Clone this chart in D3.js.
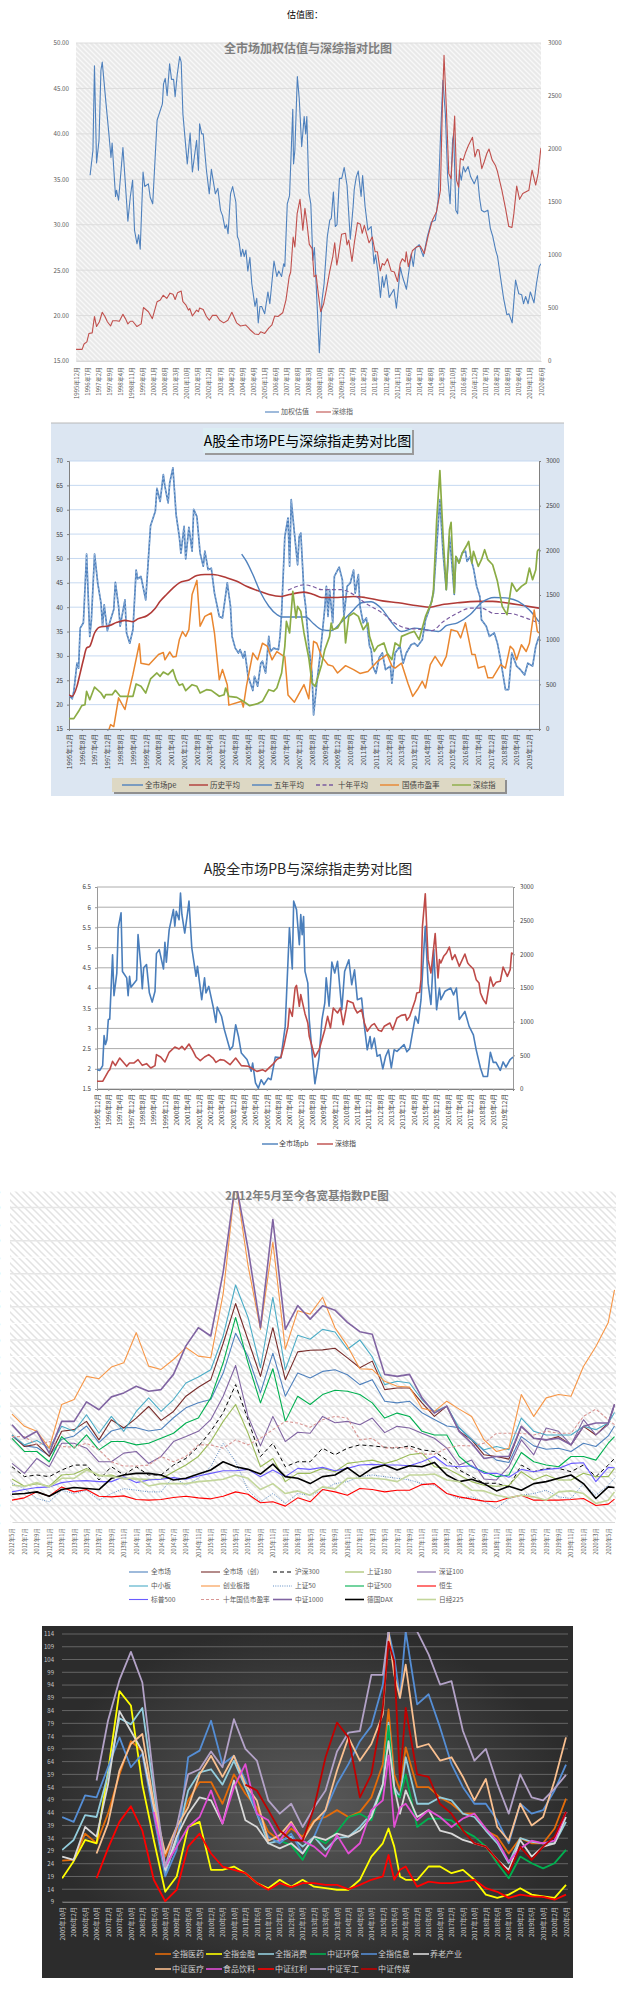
<!DOCTYPE html>
<html><head><meta charset="utf-8">
<script src="https://cdnjs.cloudflare.com/ajax/libs/d3/7.8.5/d3.min.js"></script>
<style>html,body{margin:0;background:#fff}svg{display:block}text{font-family:"Noto Sans CJK SC","Noto Sans",sans-serif}</style>
</head><body><svg id="c" width="629" height="2000"></svg>
<script>
// ---------- chart 1: [year, value]
const c1Labels="1995年12月 1996年7月 1997年2月 1997年9月 1998年4月 1998年11月 1999年6月 2000年1月 2000年8月 2001年3月 2001年10月 2002年5月 2002年12月 2003年7月 2004年2月 2004年9月 2005年4月 2005年11月 2006年6月 2007年1月 2007年8月 2008年3月 2008年10月 2009年5月 2009年12月 2010年7月 2011年2月 2011年9月 2012年4月 2012年11月 2013年6月 2014年1月 2014年8月 2015年3月 2015年10月 2016年5月 2016年12月 2017年7月 2018年2月 2018年9月 2019年4月 2019年11月 2020年6月".split(" ");
const c1Pe=[[1996.66,35.45],[1996.81,38.2],[1996.89,47.5],[1997,36.8],[1997.13,39.3],[1997.23,47],[1997.3,47.9],[1997.5,43.3],[1997.65,40],[1997.76,37.4],[1997.82,39],[1998,33.1],[1998.05,33.8],[1998.16,32.7],[1998.39,38.5],[1998.65,30.4],[1998.78,33.1],[1998.9,34.9],[1999,29.4],[1999.13,27.9],[1999.22,28.9],[1999.3,27.3],[1999.45,35.8],[1999.54,34.2],[1999.73,34.5],[1999.83,33],[1999.96,32.3],[2000.19,41.5],[2000.47,43.3],[2000.53,45.5],[2000.62,46.1],[2000.72,44.2],[2000.85,47.7],[2000.95,46],[2001.06,46],[2001.14,44.1],[2001.25,46.5],[2001.38,48.5],[2001.46,47.9],[2001.55,42.2],[2001.78,36.7],[2001.93,40.1],[2002.05,35.8],[2002.27,39.3],[2002.37,36],[2002.43,41.1],[2002.54,40],[2002.62,40],[2002.79,36],[2002.94,33.4],[2003.05,36.1],[2003.26,33.4],[2003.39,34],[2003.53,31.6],[2003.64,31],[2003.77,29.6],[2003.85,30],[2003.93,29],[2004.06,33.4],[2004.17,34.2],[2004.34,32.5],[2004.42,28.7],[2004.5,28.3],[2004.61,26.5],[2004.7,27.3],[2004.78,26.5],[2004.87,27.2],[2004.97,24.9],[2005.08,26.4],[2005.18,23.5],[2005.35,21],[2005.44,21.9],[2005.52,19.2],[2005.61,21],[2005.7,21],[2005.86,20.2],[2006.03,22.6],[2006.13,21.3],[2006.35,26],[2006.5,24.3],[2006.6,24.9],[2006.75,24.3],[2006.86,25.7],[2006.92,25.4],[2007.05,32.3],[2007.17,33.2],[2007.34,42.7],[2007.38,36.7],[2007.45,38.2],[2007.58,46.3],[2007.68,43.9],[2007.81,38.6],[2007.94,41.9],[2008.02,40],[2008.08,41.9],[2008.19,33.5],[2008.29,32.3],[2008.4,26.1],[2008.48,27.5],[2008.61,21.7],[2008.74,15.9],[2008.88,21.7],[2008.99,23.5],[2009.16,28.7],[2009.29,30.5],[2009.37,30.7],[2009.48,33.6],[2009.58,29.8],[2009.67,30],[2009.8,35.1],[2009.92,35.1],[2010.05,36.3],[2010.2,34.3],[2010.37,28.4],[2010.52,32],[2010.58,33.9],[2010.69,35.3],[2010.79,35.9],[2010.94,33.1],[2011.02,35.4],[2011.15,32],[2011.3,29.4],[2011.47,29.8],[2011.62,25.7],[2011.7,26.7],[2011.83,24.8],[2011.96,22],[2012.06,24.3],[2012.14,23.1],[2012.27,24.5],[2012.42,22],[2012.67,22.9],[2012.8,20.8],[2013.01,25.3],[2013.12,24.3],[2013.33,22.9],[2013.58,26.8],[2013.69,25.4],[2013.8,27.4],[2014,27.8],[2014.22,26.5],[2014.43,28.7],[2014.64,30.3],[2014.85,30.5],[2015,32.7],[2015.13,40],[2015.25,45.9],[2015.38,42.2],[2015.5,35.3],[2015.63,32.3],[2015.76,39.3],[2015.82,40],[2015.93,31.6],[2016.03,31.2],[2016.12,36],[2016.22,34.9],[2016.33,36.4],[2016.43,35.8],[2016.58,36.4],[2016.71,35.3],[2016.9,34.5],[2017.07,35.4],[2017.18,33],[2017.28,31.6],[2017.43,31.4],[2017.62,31.6],[2017.75,29.6],[2017.88,28.7],[2018.03,27.2],[2018.13,26.5],[2018.28,24.3],[2018.45,21.9],[2018.62,20.1],[2018.73,20.2],[2018.9,19.2],[2019.08,23.9],[2019.25,22.4],[2019.4,22.3],[2019.5,21.3],[2019.61,22.1],[2019.74,21.3],[2019.86,22.6],[2020.05,21.4],[2020.18,23.5],[2020.33,25.4],[2020.42,25.7]];
const c1Idx=[[1995.92,110],[1996.24,110],[1996.34,160],[1996.49,180],[1996.6,260],[1996.77,265],[1996.89,420],[1997,325],[1997.15,370],[1997.3,460],[1997.44,420],[1997.57,370],[1997.74,330],[1997.85,380],[1998.04,380],[1998.2,375],[1998.39,440],[1998.52,400],[1998.65,350],[1998.78,375],[1998.9,375],[1999.13,325],[1999.35,350],[1999.47,505],[1999.73,465],[1999.94,400],[2000.19,560],[2000.36,575],[2000.51,620],[2000.7,590],[2000.87,640],[2001.03,630],[2001.14,580],[2001.27,645],[2001.46,660],[2001.55,560],[2001.7,530],[2001.84,480],[2001.91,495],[2002.05,425],[2002.27,480],[2002.37,465],[2002.43,500],[2002.62,485],[2002.79,420],[2002.94,385],[2003.11,430],[2003.32,430],[2003.49,385],[2003.7,360],[2003.92,385],[2004.13,460],[2004.38,360],[2004.59,330],[2004.85,340],[2005.02,310],[2005.12,290],[2005.33,255],[2005.54,250],[2005.65,275],[2005.86,260],[2006.07,310],[2006.24,340],[2006.39,425],[2006.56,420],[2006.81,455],[2006.98,575],[2007.15,795],[2007.23,840],[2007.36,1170],[2007.45,1075],[2007.57,1390],[2007.72,1525],[2007.87,1235],[2007.98,1440],[2008.08,1310],[2008.21,1100],[2008.36,1060],[2008.46,795],[2008.57,810],[2008.68,640],[2008.81,465],[2008.96,535],[2009.11,670],[2009.28,840],[2009.45,985],[2009.55,1115],[2009.66,905],[2009.74,985],[2009.91,1195],[2010.12,1205],[2010.2,1095],[2010.29,1140],[2010.46,940],[2010.58,1110],[2010.75,1305],[2010.9,1290],[2011,1205],[2011.11,1280],[2011.36,1115],[2011.53,1170],[2011.68,1030],[2011.8,1030],[2011.95,850],[2012.06,920],[2012.17,905],[2012.33,965],[2012.52,850],[2012.69,840],[2012.86,750],[2013,920],[2013.11,965],[2013.26,935],[2013.32,1030],[2013.43,890],[2013.64,1040],[2013.85,1075],[2014.06,1085],[2014.27,1015],[2014.48,1185],[2014.7,1330],[2014.91,1405],[2015.12,1610],[2015.23,2460],[2015.31,2885],[2015.43,2395],[2015.56,1770],[2015.68,1720],[2015.87,2310],[2015.97,1705],[2016.08,1640],[2016.17,1910],[2016.32,1895],[2016.45,1970],[2016.6,2035],[2016.81,2110],[2016.94,1925],[2017.07,1995],[2017.15,1990],[2017.3,1815],[2017.43,1880],[2017.56,1955],[2017.68,2000],[2017.85,1895],[2018.02,1845],[2018.13,1785],[2018.36,1610],[2018.55,1440],[2018.72,1270],[2018.89,1260],[2018.99,1390],[2019.14,1650],[2019.29,1525],[2019.46,1580],[2019.78,1610],[2019.95,1800],[2020.14,1660],[2020.27,1770],[2020.39,1970],[2020.42,2010]];
// ---------- chart 2: [month index from 1995-12, value]
const c2Labels="1995年12月 1996年8月 1997年4月 1997年12月 1998年8月 1999年4月 1999年12月 2000年8月 2001年4月 2001年12月 2002年8月 2003年4月 2003年12月 2004年8月 2005年4月 2005年12月 2006年8月 2007年4月 2007年12月 2008年8月 2009年4月 2009年12月 2010年8月 2011年4月 2011年12月 2012年8月 2013年4月 2013年12月 2014年8月 2015年4月 2015年12月 2016年8月 2017年4月 2017年12月 2018年8月 2019年4月 2019年12月".split(" ");
const c2Pe=[[0,21.9],[2,21.2],[3,22.7],[5,28.5],[6,27.5],[7,35.7],[9,36.8],[11,50.9],[13,34],[14,37.4],[16,50.9],[18,44.9],[20,40.9],[21,36.1],[22,40.5],[24,35.2],[26,37.4],[28,39.5],[29,45.1],[31,40.2],[32,36.1],[35,41.5],[36,34.7],[38,32.6],[40,35.4],[42,47.6],[43,45.8],[45,46.3],[48,41.5],[51,56.7],[54,59.7],[55,64.4],[57,61.7],[59,67.2],[60,64.8],[62,61.4],[63,65.5],[65,68.6],[67,59],[69,54.5],[70,51.1],[72,56.6],[73,49.9],[75,56.4],[77,51.5],[78,60.1],[80,58.6],[82,51.1],[84,48.4],[85,51.5],[87,47.7],[89,48],[91,42.9],[94,38.1],[96,37.8],[99,45],[101,40.2],[102,34],[104,31.6],[106,30.6],[107,31.3],[109,29.6],[110,30.9],[112,25.8],[115,22.9],[116,25.8],[118,23.8],[120,28.5],[121,28.9],[123,26.5],[125,34],[126,30.9],[128,31.6],[131,31.3],[132,34],[133,38.8],[135,54.5],[137,58.3],[138,48.4],[139,62.1],[141,55.2],[143,48.7],[144,54.5],[145,55.2],[147,42.9],[148,40.2],[150,32],[152,26.5],[153,17.9],[155,24.4],[157,29.9],[160,39.8],[161,44.3],[162,38.1],[163,43.6],[165,36.8],[166,46.3],[169,48.2],[171,45.6],[172,38.1],[174,44.3],[176,45],[178,47.6],[179,42.9],[181,46.7],[182,40.2],[184,36.8],[186,37.8],[188,32],[189,31.3],[190,27.9],[192,26.4],[194,29.6],[196,30.6],[198,27.2],[201,27.9],[202,24.4],[204,30.6],[207,32],[209,28.5],[211,30.6],[214,32.3],[216,32.6],[218,32],[221,33.3],[223,37.4],[226,40.2],[228,42.9],[230,52.5],[232,62.1],[234,51.1],[236,43.6],[238,54.5],[239,51.1],[241,42.6],[242,50.4],[244,49.1],[246,51.1],[248,51.5],[249,49.4],[251,50.4],[253,48],[255,44.3],[257,42.2],[258,37.4],[261,36.1],[263,34],[266,34.7],[268,32.6],[270,29.2],[273,23.1],[275,23.1],[277,30.6],[280,27.9],[282,27.3],[285,26.1],[287,28.5],[290,27.9],[292,32],[294,34]];
const c2Hist=[[0,22],[2,21.7],[5,23.8],[7,26.5],[9,29.2],[11,31.6],[13,32],[16,34.7],[19,35.9],[25,36.2],[30,36.9],[35,37.3],[40,37],[43,37.6],[49,38.3],[54,39.8],[57,41.2],[61,42.6],[65,43.9],[69,45],[75,45.6],[80,46.5],[85,46.7],[90,46.7],[99,46],[105,45.3],[111,44.3],[118,43.4],[125,42.6],[133,42.2],[138,42.6],[147,43.1],[153,42.6],[158,42],[168,42],[178,42.2],[185,42],[196,41.3],[206,40.9],[218,40.3],[226,40],[233,40.5],[243,40.9],[256,41.2],[265,41.2],[273,40.9],[283,40.4],[294,39.8]];
const c2Five=[[108,50.9],[111,49.4],[115,46.7],[120,42.9],[125,40.2],[130,38.5],[133,38],[140,38],[148,38],[153,36.6],[158,35.4],[164,35.2],[170,36.8],[177,39.1],[183,40.9],[189,41.1],[196,39.5],[202,36.8],[208,35],[216,35.7],[223,35.4],[231,35],[236,36.2],[243,36.8],[251,38.5],[258,40.9],[266,42],[273,41.9],[281,41.2],[288,39.4],[294,37]];
const c2Ten=[[137,43.5],[143,44.3],[147,44.6],[152,44.3],[158,43.6],[170,43.6],[178,42.6],[185,40.9],[196,38.8],[203,36.9],[211,35.7],[218,35.5],[227,35.2],[234,37],[243,38.8],[251,39.8],[258,39.8],[266,38.7],[276,38.7],[283,38.1],[294,36.7]];
const c2Bond=[[25,14.9],[26,15.9],[28,15.5],[31,21.4],[35,19],[37,22],[40,26.2],[44,32.5],[45,28.5],[50,28.2],[56,30.3],[59,30.7],[60,29.2],[63,30.8],[65,29.8],[67,29.9],[69,33.3],[71,35],[73,34],[75,35.4],[77,42.6],[80,45.5],[82,36.1],[85,38.1],[89,38.8],[91,34.7],[94,25.1],[96,27.2],[99,24.1],[100,19.9],[108,20.7],[109,19.5],[111,23.8],[115,30.6],[118,29.2],[121,32.6],[124,32],[127,29.2],[130,30.9],[135,29.8],[137,22],[141,20.5],[147,24.1],[150,21.2],[153,33],[155,32.6],[158,29.9],[162,28.2],[165,27.9],[168,26.5],[173,28],[178,27.2],[182,26.4],[187,26.8],[193,28.9],[197,29.8],[199,30.3],[202,27.9],[204,27.5],[208,28.5],[212,24.4],[215,21.7],[218,23.1],[221,24.8],[223,23.4],[226,28.2],[229,29.9],[233,27.9],[236,29.9],[239,35.4],[243,35],[245,33.7],[248,36.8],[252,30.3],[254,30.3],[256,27.5],[260,27.9],[262,25.5],[265,25.5],[270,28.2],[273,27.5],[276,32],[278,31.3],[280,29.2],[283,32.3],[286,30.9],[288,32.6],[291,39.4],[293,35],[294,34.7]];
const c2Idx=[[0,116],[3,116],[6,198],[8,261],[10,272],[11,422],[13,328],[16,470],[20,403],[22,347],[23,384],[27,384],[29,433],[32,366],[37,366],[40,366],[42,504],[45,478],[48,403],[51,560],[55,627],[57,590],[59,638],[62,608],[65,664],[67,552],[69,489],[71,504],[73,429],[77,496],[80,478],[82,403],[86,440],[89,433],[94,366],[97,384],[98,459],[100,366],[105,354],[109,310],[113,261],[118,284],[121,310],[125,440],[128,422],[130,459],[133,627],[135,925],[136,1205],[138,1075],[140,1541],[142,1242],[143,1373],[145,1317],[147,1075],[150,795],[152,515],[154,478],[158,720],[160,888],[163,1037],[164,1186],[165,1112],[168,1130],[172,1261],[173,963],[175,1261],[178,1298],[181,1261],[184,1112],[187,1186],[188,1037],[191,869],[193,925],[197,963],[199,851],[202,776],[204,963],[207,925],[208,1037],[213,1075],[216,1093],[219,1000],[223,1261],[227,1429],[228,1560],[230,2343],[232,2892],[234,2157],[236,1560],[238,2231],[239,2313],[241,1522],[242,1933],[244,1858],[246,1970],[249,2063],[250,2100],[252,1858],[253,1989],[256,1821],[258,1895],[260,2007],[262,1895],[265,1839],[268,1653],[271,1373],[274,1280],[277,1634],[280,1541],[283,1597],[286,1634],[288,1802],[290,1671],[292,1783],[293,1989],[294,2015]];
// ---------- chart 3: [month index from 1995-12, value]
const c3Pb=[[0,1.98],[2,1.96],[4,2.08],[5,2.82],[6,2.6],[7,2.72],[8,3.22],[9,3.23],[11,4.82],[12,3.81],[14,4.37],[15,5.49],[17,5.86],[18,4.41],[21,4.25],[22,3.81],[23,4.29],[24,4.02],[28,4.2],[29,5.32],[31,4.54],[32,3.98],[33,4.5],[35,4.58],[37,3.88],[39,3.65],[41,3.92],[42,4.85],[44,4.95],[47,4.47],[48,5.13],[49,4.64],[51,5.44],[54,5.94],[55,5.53],[56,5.9],[58,5.69],[59,6.35],[60,5.82],[62,5.36],[64,5.86],[65,6.15],[67,4.99],[70,4.29],[71,4.54],[74,3.71],[76,4.25],[77,3.88],[79,4.04],[82,3.55],[84,3.15],[85,3.53],[88,3.3],[90,2.97],[94,2.47],[96,2.56],[98,3.09],[100,2.8],[102,2.39],[106,2.23],[109,1.94],[110,2.14],[112,1.65],[114,1.52],[116,1.73],[118,1.61],[121,1.77],[123,1.73],[126,2.29],[130,2.27],[133,3.05],[136,5.49],[138,4.47],[139,6.15],[141,5.94],[143,5.07],[144,5.82],[145,5.32],[146,5.77],[147,4.41],[149,4.12],[150,3.22],[152,2.39],[154,1.63],[156,2.06],[157,2.31],[159,3.22],[161,3.63],[162,4.25],[164,3.55],[166,4.64],[168,4.37],[170,4.66],[173,3.46],[175,4.41],[178,4.7],[180,4.08],[182,4.45],[184,3.71],[187,3.75],[189,3.05],[191,2.47],[193,2.8],[194,2.5],[196,2.76],[198,2.31],[200,2.35],[202,2],[204,2.31],[206,2.47],[208,2.02],[210,2.47],[212,2.43],[217,2.6],[219,2.42],[221,2.5],[225,3.3],[227,3.13],[229,3.71],[231,4.95],[232,5.53],[234,4.12],[236,3.59],[238,4.95],[240,3.46],[242,4],[243,3.71],[246,3.92],[250,4],[252,3.83],[254,4],[256,3.22],[260,3.42],[263,3.05],[266,2.84],[268,2.47],[271,2.02],[273,1.81],[276,1.81],[278,2.41],[280,2.16],[282,2.16],[285,1.96],[287,2.17],[289,2.04],[292,2.23],[294,2.29]];
const c3Idx=[[0,114],[4,114],[6,188],[8,262],[9,287],[11,411],[13,347],[16,460],[18,411],[21,337],[23,386],[26,386],[29,436],[32,351],[35,376],[38,312],[41,347],[42,510],[45,475],[48,401],[51,545],[55,624],[58,594],[60,634],[62,584],[65,668],[68,559],[70,475],[73,421],[76,475],[79,510],[82,460],[84,396],[87,436],[90,426],[94,361],[98,460],[102,347],[107,337],[113,262],[117,287],[119,262],[124,361],[127,436],[130,475],[132,634],[135,931],[136,1193],[138,1079],[140,1500],[141,1539],[143,1228],[144,1401],[147,1119],[149,980],[150,782],[154,475],[157,584],[161,881],[163,1079],[165,906],[167,1203],[170,1129],[172,1203],[174,955],[176,1178],[177,1312],[181,1277],[182,1203],[184,1129],[187,1178],[189,980],[191,856],[194,945],[196,970],[199,871],[201,856],[203,931],[207,980],[209,881],[212,1054],[215,1094],[218,1104],[219,1020],[221,1079],[225,1327],[226,1426],[228,1436],[229,1624],[230,2416],[232,2900],[234,1921],[236,1723],[239,2307],[241,1648],[242,1921],[243,1871],[245,1970],[247,2020],[249,2109],[251,1921],[253,1995],[256,1822],[260,2005],[262,1871],[263,1846],[266,1782],[268,1624],[270,1574],[271,1426],[273,1327],[275,1267],[278,1663],[280,1525],[282,1584],[285,1599],[287,1812],[290,1673],[292,1772],[293,2020],[294,2005]];
// ---------- chart 4: one value per two-month tick, last value is the closing month
const c4Labels="2012年5月 2012年7月 2012年9月 2012年11月 2013年1月 2013年3月 2013年5月 2013年7月 2013年9月 2013年11月 2014年1月 2014年3月 2014年5月 2014年7月 2014年9月 2014年11月 2015年1月 2015年3月 2015年5月 2015年7月 2015年9月 2015年11月 2016年1月 2016年3月 2016年5月 2016年7月 2016年9月 2016年11月 2017年1月 2017年3月 2017年5月 2017年7月 2017年9月 2017年11月 2018年1月 2018年3月 2018年5月 2018年7月 2018年9月 2018年11月 2019年1月 2019年3月 2019年5月 2019年7月 2019年9月 2019年11月 2020年1月 2020年3月 2020年5月".split(" ");
const c4X=[...c4Labels.keys(),48.5];
const c4All=[31,28,27.5,25,30,31,34,29,32.5,33.5,33.5,32.5,33,36.5,39.5,41,42,50,62,55,44,56,43,50,48.5,50.5,51,49.5,46.5,48,41.5,41,41.5,38,36,34,33.5,30,26.5,23.7,23,30.8,28,27,27.3,26.3,28.8,27.8,31,34];
const c4AllNew=[31.3,27.8,28.5,24.8,32.4,32.9,35.4,29.8,35.9,33.4,36.4,39.9,35.7,38.4,43,45.7,48,59,71,60,49,63.7,48,56.4,56.9,57,57.5,54.6,51.6,53.6,45,45.5,45.5,41,36.9,40,32.4,29.8,25.3,24.8,24,33.9,30.3,29.8,30.8,28.3,33.9,31.3,34.9,40.5];
const c4Hs300=[21.7,18.7,19.2,18.7,20.7,22.2,22.2,17.7,21.7,19.2,21.7,19.2,19.2,22.2,24.2,27.8,32.4,38,46.5,35.9,24.8,28.8,21.7,23.2,23.2,27.3,25.3,27.3,28.3,28,27.6,27.3,28,26.8,26.3,23.7,20.7,18.7,16.7,16.7,15.6,22.2,20.2,21.2,21.2,20.2,22.2,18.7,22.2,24.2];
const c4Sz180=[18,15.8,16.6,15.8,19.2,19.5,21.2,18.9,19.2,18,18,17.9,18,20.2,22.2,24.8,29.3,35.4,40.5,31.8,21.7,24.2,17.2,19.7,19.7,21.2,20.2,22.7,23.2,23.7,22.7,23.7,25.3,25.8,21.7,21.2,19.2,17.2,16.1,15.8,16.1,20.2,17.7,19.2,17.7,17.7,19.7,18.7,18.7,21.2];
const c4Sz100=[22.7,19.7,24.2,21.7,28.8,28.8,27.3,23.2,23.2,25.8,26.3,22.7,24.8,29.3,30.8,32.4,35.9,43,52.3,36.9,28,36.9,29.3,32.1,31.8,36.9,35,35.4,34.4,36.4,32,33.9,33.4,31.8,30.3,27.3,22.2,23.7,18,17.7,21.7,29.8,25.3,33.4,32.4,28.3,35.9,31.3,34.4,40.5];
const c4Zxb=[31.3,28.3,29.6,27.3,33.9,32.4,37.4,31.8,36.9,32.4,38.4,42.5,38.4,42,47,48.8,51,61.2,76.6,66.8,51.6,72.9,51,61.4,60.2,63.2,62.4,57.2,60,54.9,46.5,47.5,47,42,38.4,40,33.4,29.8,26.8,27.8,26.8,36.4,32.4,31.3,31.3,31.3,33.9,32.9,34.9,38.1];
const c4Cyb=[37.6,33.9,32.4,27.3,40.5,42,49,48.3,51.8,53.1,62.2,52.1,51.1,54.1,57.7,55.1,54.6,74,108,82.5,63.2,89.6,57.2,68.8,67.8,72.9,63.7,58.2,51.3,51.1,47.5,46,45.8,39.4,38.4,41.5,39.1,36.9,29.8,26.3,27.3,43.5,36.9,42.5,43.5,43,52,58,65.3,75.1];
const c4Sz50=[16.6,15.1,12.1,11.1,14.6,13.6,14.6,11.6,13.6,15.1,14.6,14.1,14.1,18.7,16.1,18.2,21.7,28.8,23.2,14.6,11.1,13.6,10.6,13.6,13.1,14.6,16.6,17.2,18.7,19.2,18.7,18.2,17.7,16.6,16.1,13.6,12.1,12.6,11.1,9.1,12.1,13.1,13.6,14.6,12.6,12.1,16.6,13.1,16.1,18.2];
const c4Zz500=[30.3,26.3,26.3,23.2,30.8,27.3,31.3,26.8,29.3,29.3,28.3,28.8,30.3,31.8,34.9,36.4,42.5,53.1,66.8,53.1,41,51.3,35.4,43,40.5,43.5,44.8,44.5,43.5,41,36.4,37.9,36.9,32.4,31.3,31.3,24.8,21.7,20.2,18.7,19.2,26,23.2,22.2,21.7,24.8,24.8,23.7,28.8,30.8];
const c4Hs=[11.6,12.3,14.1,12.8,15.6,14.1,14.8,12.8,12.6,12.9,11.8,11.6,11.8,12.4,12.8,12.3,12,12.8,14.1,13.4,10.8,11.1,9.8,12.3,11.1,14.8,14.1,13.1,15.1,14.8,14.1,14.6,14.6,16.3,16.6,13.6,12.6,11.9,11.3,11.1,12.3,13.1,11.6,11.6,11.6,11.8,12.1,10,10.4,11.9];
const c4Sp=[14.1,14.8,15.4,15.6,16.9,17.4,17.5,17.2,17.2,18.7,16.9,17.7,17.9,18.4,17.9,18.9,19.7,20.5,20.5,20.9,18.7,20.7,18.7,21.2,20.9,21.5,20.5,21.2,22.2,22.4,22.2,22.2,22,23.2,24.8,22,21.7,22,19.7,19.7,18.5,20.9,20.2,20.9,21.2,22.7,22.9,17.2,21.5,21.4];
const c4Bond=[30.8,30.8,28.3,29.3,27.8,27.6,28.8,26.8,23.2,21.9,21.9,22.2,24.8,23.2,24.8,28.3,28.3,27.3,29.8,28.3,30.3,32.9,35.4,34.9,33.6,35.9,36.9,36.4,29.8,30.3,27.3,27.6,27.3,25.5,25.5,27.3,28.1,28,28.8,31.8,31.8,31.8,31.3,32.4,31.8,31.8,36.9,39.1,35.9,34.4];
const c4Zz1000=[34.4,30.3,32.4,25.8,35.4,35.4,41.3,38.9,42.8,44,46,44.5,45,49.6,58.2,63.7,61.2,80.5,108,87.6,63.7,96.4,63.2,70.4,66.3,70.3,69,65.3,62.5,61.7,49.6,49,49.6,42.5,37.9,40,32.4,28.8,24.2,24.8,24.8,33.9,30.3,29.8,30.3,28.3,33.9,34.9,34.9,40.5];
const c4Dax=[13.4,13.6,14.1,12.8,14.8,15.4,15.1,14.8,18.2,19.2,19.7,19.7,19.2,17.7,18.2,19.5,20.7,23.2,21.7,20.9,19.5,22.5,18.7,18.2,16.6,18.7,19.2,21.4,18.7,21.2,22.2,20.7,22,21.7,23,19.2,17.2,17.9,16.6,14.4,15.8,14.6,16.6,17.2,18.2,19.2,16.6,12.1,15.6,15.4];
const c4Nk=[16.1,15.8,16.9,15.6,18.2,18.2,20.7,19.2,18.7,18.2,18.2,15.9,16.6,16.6,16.6,17.2,17.5,17.9,19.2,18.2,14.8,16.6,13.6,14.4,13.1,15.6,15,18.2,18.2,18.2,17.9,17.2,19.2,19.2,19.5,17.7,17.2,14.6,14.4,13.1,12.3,13.1,12.6,11.6,14.1,14.4,13.6,10.6,11.6,14.1];
// ---------- chart 5: values at the positions in c5X (unit = four-month tick)
const c5Labels="2005年10月 2006年2月 2006年6月 2006年10月 2007年2月 2007年6月 2007年10月 2008年2月 2008年6月 2008年10月 2009年2月 2009年6月 2009年10月 2010年2月 2010年6月 2010年10月 2011年2月 2011年6月 2011年10月 2012年2月 2012年6月 2012年10月 2013年2月 2013年6月 2013年10月 2014年2月 2014年6月 2014年10月 2015年2月 2015年6月 2015年10月 2016年2月 2016年6月 2016年10月 2017年2月 2017年6月 2017年10月 2018年2月 2018年6月 2018年10月 2019年2月 2019年6月 2019年10月 2020年2月 2020年6月".split(" ");
const c5X=[0,1,2,3,4,5,6,7,8,9,10,11,12,13,14,15,16,17,18,19,20,21,22,23,24,25,26,27,28,28.5,29,29.5,30,31,32,33,34,35,36,37,38,39,40,41,42,43,44];
const c5Yticks=[9,14,19,24,29,34,39,44,49,54,59,64,69,74,79,84,89,94,99,104,109,114];
const _=null;
const c5Med=[25.2,25.5,35.8,32,43.6,59,72,68,47.5,26.8,37,48.8,56,56,47.5,59,51.4,46,36.5,33,37.8,34.6,41,42.3,45,42.3,44.3,50,63,84.5,59,52.7,69.6,54,54,50,47.5,43.6,43.6,37,34.6,28,34,32,32,37.8,49.5];
const c5Fin=[18.3,25,33.3,32,60,91.6,86,55,33.3,13,19,38.4,40.4,21.6,21.6,22.9,20.3,16.4,14.4,17.7,15,17.7,15,14.4,13.8,13.8,17.7,26.8,32,37.8,30.7,19,17.7,17.7,22.9,22.9,20.3,21.6,17.7,11.9,10.6,11.9,14.4,11.9,11.2,10.6,15.7];
const c5Cons=[29.4,33.3,43,42.3,59,81,78.6,85,52.7,20.3,33.3,52.7,59.8,61,55,64.4,54,43.6,32,33,34.6,30.7,34.6,29.4,34,34.6,38.4,43.6,55,79.3,54,50,65.7,47.5,47.5,50,48.8,43.6,42.3,37,32,24.2,34,32.6,32,32,40.4];
const c5Env=[_,_,_,_,_,_,_,_,_,_,_,_,_,_,_,_,_,_,_,33,31.3,25.5,34.6,32,36.5,42.3,43.6,41,54,78,51.4,50,59,38.4,41.7,41.7,41,37,34.6,30.7,24.2,18.3,26.8,24.2,22.2,24.2,29.4];
const c5Info=[42.3,40.4,50.8,50,61.8,73.5,61.8,67,43,19,29.4,65.7,68.3,80,63,66.3,56.6,43.6,34.6,32,35.8,28,34.6,45,55.3,63,72,78,94,115,105,89,115,86.4,90.4,77.4,63,54,47.5,47.5,41,32,47.5,43.6,45,52.7,62.8];
const c5Pens=[26.8,25.5,38.4,34.6,55,83.8,76,68,46,21.6,34.6,43.6,50,48.8,39.7,56.6,41,38.4,32,30,32,28,34.6,33.3,35.8,34.6,37,42.3,55,72,54,43.6,52.7,42.3,45,37,35.8,33.3,32,30.7,25.5,21.6,33.3,26.8,30.7,32,42.3];
const c5Care=[_,_,_,28,39.7,60.5,70.9,74.8,47.5,28,38.4,46,59,66.3,58,66.3,55,48.8,33,35.2,40.4,33,40.4,45,60.5,73.5,64.4,70.9,82.5,115,98,89,102,69.6,70.9,64.4,65.7,58,48.8,57.2,38.4,33,47.5,39,42.3,56.6,73.5];
const c5Food=[_,_,_,_,_,_,_,_,44.3,22.9,30.7,38.4,42.3,52.7,39.7,54,63,43.6,41,33,39.7,33,30.7,26.8,35.2,28,32,45,48.8,66.3,38.4,46,47.5,41,45,42.3,38.4,41.7,43.6,37.8,33,24.8,30,33,32,33,44.3];
const c5Div=[_,_,_,18.3,30,40.4,46.5,37,17.7,9.3,13.8,30.7,35.8,28,22.9,21.6,20.3,16.4,13.8,16.4,14.8,16.4,16.4,15.7,15.7,14,15.7,17.7,19,27.4,17.7,21.6,22.9,15,17,16.4,16.4,17,17.7,14.4,13,10.6,11.9,11.2,11,9.9,11.9];
const c5Mil=[_,_,_,56.6,80,96,107,95,56.6,22.9,38.4,59,61,68,61.8,80.6,69,64.4,48.8,43.6,47.5,38.4,46,52.7,68,75.4,76,98,98,115,115,115,115,115,106,94.2,95.5,76,64.4,69,55.3,43.6,59,50,48.8,53.4,58.8];
const c5Media=[_,_,_,_,_,_,_,_,_,_,_,_,_,_,_,_,55,52.7,45,37,33.3,33,46,65.7,79.3,73.5,50,59,85,111,103,56.6,85,59,58,47.5,43.6,37,32,30.7,25.5,20.3,30.7,25.5,30.7,34.6,44.3];

// ---------- drawing
const svg=d3.select("#c");
const defs=svg.append("defs");
const pa=defs.append("pattern").attr("id","h1").attr("width",5).attr("height",5).attr("patternUnits","userSpaceOnUse");
pa.append("rect").attr("width",5).attr("height",5).attr("fill","#e9e9e9");
pa.append("path").attr("d","M-1,-1L6,6M-1,4L1,6M4,-1L6,1").attr("stroke","#f8f8f8").attr("stroke-width",1.3);
const pb=defs.append("pattern").attr("id","h2").attr("width",7).attr("height",7).attr("patternUnits","userSpaceOnUse");
pb.append("rect").attr("width",7).attr("height",7).attr("fill","#fff");
pb.append("path").attr("d","M-1,-1L8,8M-1,6L1,8M6,-1L8,1").attr("stroke","#e3e3e3").attr("stroke-width",1.5);
const grad=defs.append("radialGradient").attr("id","dk");
grad.append("stop").attr("offset","0%").attr("stop-color","#5a5a5a");
grad.append("stop").attr("offset","100%").attr("stop-color","#2c2c2c");
let clipN=0;

function axisSet(o){
 const g=svg.append("g");
 const y=d3.scaleLinear().domain(o.yDomain).range([o.b,o.t]);
 const x=d3.scaleLinear().domain(o.xDomain).range([o.xr?o.xr[0]:o.l,o.xr?o.xr[1]:o.r]);
 const r=o.rDomain?d3.scaleLinear().domain(o.rDomain).range([o.b,o.t]):null;
 if(o.bg)g.append("rect").attr("x",o.l).attr("y",o.t).attr("width",o.r-o.l).attr("height",o.b-o.t).attr("fill",o.bg);
 g.append("g").selectAll("line").data(o.yTicks).join("line").attr("x1",o.l).attr("x2",o.r).attr("y1",d=>y(d)).attr("y2",d=>y(d)).attr("stroke",o.grid).attr("stroke-width",o.gridW||1);
 const ax=g.append("g").attr("transform",`translate(${o.labelRight||o.l},0)`).call(d3.axisLeft(y).tickValues(o.yTicks).tickFormat(o.yFmt||(d=>d)).tickSize(o.tick||0).tickPadding(o.pad||3));
 ax.select(".domain").attr("stroke",o.axisC||"none");
 ax.selectAll("line").attr("stroke",o.axisC||"none");
 ax.selectAll("text").attr("fill",o.txt).attr("font-size",o.fs||6.5);
 if(r){
  const ar=g.append("g").attr("transform",`translate(${o.r},0)`).call(d3.axisRight(r).tickValues(o.rTicks).tickFormat(d=>d).tickSize(o.tick||0).tickPadding(o.rpad||7));
  ar.select(".domain").attr("stroke",o.axisC||"none");
  ar.selectAll("line").attr("stroke",o.axisC||"none");
  ar.selectAll("text").attr("fill",o.txt).attr("font-size",o.fs||6.5);
 }
 const bx=g.append("g").attr("transform",`translate(0,${o.b})`).call(d3.axisBottom(x).tickValues(o.xTicks).tickFormat((d,i)=>o.xLabels[i]).tickSize(o.tick||0));
 bx.select(".domain").attr("stroke",o.bottomC||"#d0d0d0").attr("stroke-width",1);
 bx.selectAll("line").attr("stroke",o.axisC||"none");
 bx.selectAll("text").attr("fill",o.txt).attr("font-size",o.xfs||5.6).attr("text-anchor","end")
   .attr("transform",`rotate(-90)`).attr("x",-(o.xPad||5)).attr("y",0).attr("dy","0.35em");
 const id="cl"+(++clipN);
 defs.append("clipPath").attr("id",id).append("rect").attr("x",o.l).attr("y",o.clipTop||o.t).attr("width",o.r-o.l).attr("height",o.b-(o.clipTop||o.t));
 const plot=svg.append("g").attr("clip-path",`url(#${id})`);
 return {x,y,r,plot};
}
function path(plot,data,fx,fy,color,w,extra){
 const ln=d3.line().defined(d=>fy(d)!=null&&!isNaN(fy(d))).x(fx).y(fy).curve(extra&&extra.curve||d3.curveLinear);
 const p=plot.append("path").attr("d",ln(data)).attr("fill","none").attr("stroke",color).attr("stroke-width",w).attr("stroke-linejoin","round");
 if(extra&&extra.dash)p.attr("stroke-dasharray",extra.dash);
 return p;
}
function txt(x,y,s,size,fill,opt={}){
 return svg.append("text").attr("x",x).attr("y",y).attr("dy","0.35em").attr("font-size",size).attr("fill",fill).attr("text-anchor",opt.anchor||"start").attr("font-weight",opt.weight||400).text(s);
}
function legend(items,y,fs,color,w){
 items.forEach(it=>{
  const l=svg.append("line").attr("x1",it.x1).attr("x2",it.x2).attr("y1",it.y||y).attr("y2",it.y||y).attr("stroke",it.c).attr("stroke-width",it.w||w);
  if(it.dash)l.attr("stroke-dasharray",it.dash);
  txt(it.tx,it.y||y,it.s,fs,color);
 });
}

// top note
txt(305,15,"估值图：",9,"#000",{anchor:"middle"});

// ----- chart 1
{
 const base=1995+11/12;
 const a=axisSet({l:76,r:541,t:43,b:361,yDomain:[15,50],yTicks:d3.range(15,51,5),yFmt:d3.format(".2f"),rDomain:[0,3000],rTicks:d3.range(0,3001,500),
  xDomain:[base,2020.42],xTicks:c1Labels.map((d,i)=>base+i*7/12),xLabels:c1Labels,bg:"url(#h1)",grid:"#dcdcdc",txt:"#595959",fs:6.2,pad:7,rpad:7,xPad:6,xfs:6,bottomC:"#d9d9d9"});
 path(a.plot,c1Pe,d=>a.x(d[0]),d=>a.y(d[1]),"#4f81bd",1.1);
 path(a.plot,c1Idx,d=>a.x(d[0]),d=>a.r(d[1]),"#c0504d",1.1);
 txt(308,49,"全市场加权估值与深综指对比图",12,"#7f7f7f",{anchor:"middle",weight:700});
 legend([{x1:265,x2:279,tx:281,s:"加权估值",c:"#4f81bd"},{x1:316,x2:331,tx:332,s:"深综指",c:"#c0504d"}],412,7,"#595959",1.1);
}

// ----- chart 2
{
 svg.append("rect").attr("x",51).attr("y",423).attr("width",513).attr("height",373).attr("fill","#dce6f2");
 svg.append("line").attr("x1",51).attr("x2",564).attr("y1",423).attr("y2",423).attr("stroke","#b8b8b8");
 const a=axisSet({l:69,r:539,t:461,b:729,yDomain:[15,70],yTicks:d3.range(15,71,5),rDomain:[0,3000],rTicks:d3.range(0,3001,500),
  xDomain:[0,294],xTicks:c2Labels.map((d,i)=>i*8),xLabels:c2Labels,bg:"#fff",grid:"#c6d9f1",txt:"#404040",fs:6.2,tick:2,pad:4,rpad:5,axisC:"#808080",bottomC:"#808080",xPad:5,xfs:6.6});
 const X=d=>a.x(d[0]),Y=d=>a.y(d[1]),R=d=>a.r(d[1]);
 path(a.plot,c2Pe,X,Y,"#4f81bd",1.7);
 path(a.plot,c2Pe,X,Y,"#dbe7f5",0.5,{dash:"2 2"});
 path(a.plot,c2Hist,X,Y,"#b03a37",1.6,{curve:d3.curveMonotoneX});
 path(a.plot,c2Five,X,Y,"#4f81bd",1.4,{curve:d3.curveMonotoneX});
 path(a.plot,c2Ten,X,Y,"#7a5ba0",1.2,{curve:d3.curveMonotoneX,dash:"4 2.5"});
 path(a.plot,c2Bond,X,Y,"#e9862f",1.5);
 path(a.plot,c2Idx,X,R,"#8bac45",1.7);
 svg.append("rect").attr("x",205).attr("y",430).attr("width",209).attr("height",25).attr("fill","#9a9a9a");
 svg.append("rect").attr("x",203).attr("y",428).attr("width",209).attr("height",25).attr("fill","#dcedf3");
 txt(307.5,441,"A股全市场PE与深综指走势对比图",14,"#000",{anchor:"middle"});
 svg.append("rect").attr("x",114).attr("y",780).attr("width",393).attr("height",14).attr("fill","#8f8f8f");
 svg.append("rect").attr("x",112).attr("y",778).attr("width",393).attr("height",14).attr("fill","#ddd8c4");
 legend([{x1:122,x2:143,tx:145,s:"全市场pe",c:"#4f81bd"},{x1:189,x2:208,tx:210,s:"历史平均",c:"#b03a37"},{x1:252,x2:272,tx:274,s:"五年平均",c:"#4f81bd"},{x1:316,x2:335,tx:338,s:"十年平均",c:"#7a5ba0",dash:"4 2.5"},{x1:380,x2:399,tx:402,s:"国债市盈率",c:"#e9862f"},{x1:452,x2:471,tx:473,s:"深综指",c:"#8bac45"}],785,7.5,"#404040",1.4);
}

// ----- chart 3
{
 const a=axisSet({l:97,r:513,t:887,b:1089,yDomain:[1.5,6.5],yTicks:d3.range(1.5,6.51,.5),rDomain:[0,3000],rTicks:d3.range(0,3001,500),
  xDomain:[0,294],xTicks:c2Labels.map((d,i)=>i*8),xLabels:c2Labels,grid:"#acacac",txt:"#404040",fs:6.2,tick:2,pad:4,rpad:5,axisC:"#9a9a9a",bottomC:"#808080",xPad:5,xfs:6.6});
 const X=d=>a.x(d[0]);
 path(a.plot,c3Pb,X,d=>a.y(d[1]),"#4a7ebb",1.6);
 path(a.plot,c3Idx,X,d=>a.r(d[1]),"#be4b48",1.6);
 txt(308,869,"A股全市场PB与深综指走势对比图",14,"#262626",{anchor:"middle"});
 legend([{x1:262,x2:278,tx:279,s:"全市场pb",c:"#4a7ebb"},{x1:317,x2:333,tx:335,s:"深综指",c:"#be4b48"}],1144,7,"#404040",1.4);
}

// ----- chart 4
{
 const a=axisSet({l:10,r:616,xr:[12,614.5],t:1191,b:1522,yDomain:[5,105],yTicks:d3.range(5,106,5),xDomain:[0,48.5],xTicks:c4Labels.map((d,i)=>i),xLabels:c4Labels,bg:"url(#h2)",grid:"#fff",txt:"#595959",fs:6.5,labelRight:3,pad:0,xPad:6,bottomC:"#d9d9d9"});
 a.plot.selectAll("line.g").data(d3.range(10,101,10)).join("line").attr("x1",10).attr("x2",616).attr("y1",d=>a.y(d)).attr("y2",d=>a.y(d)).attr("stroke","#e6e6e6").attr("stroke-width",1.5);
 const S=[
  {s:"全市场",v:c4All,c:"#4f81bd",w:1.1},{s:"全市场（创）",v:c4AllNew,c:"#772c2a",w:1.1},{s:"沪深300",v:c4Hs300,c:"#000",w:1,dash:"4 3"},{s:"上证180",v:c4Sz180,c:"#9bbb59",w:1.1},{s:"深证100",v:c4Sz100,c:"#8064a2",w:1.1},
  {s:"中小板",v:c4Zxb,c:"#4bacc6",w:1.1},{s:"创业板指",v:c4Cyb,c:"#f79646",w:1.1},{s:"上证50",v:c4Sz50,c:"#4f81bd",w:.9,dash:"1 1.3"},{s:"中证500",v:c4Zz500,c:"#00b050",w:1.1},{s:"恒生",v:c4Hs,c:"#ff0000",w:1.1},
  {s:"标普500",v:c4Sp,c:"#6a5cff",w:1.1},{s:"十年国债市盈率",v:c4Bond,c:"#d99694",w:1.1,dash:"3 2"},{s:"中证1000",v:c4Zz1000,c:"#8064a2",w:1.6},{s:"德国DAX",v:c4Dax,c:"#000",w:1.6},{s:"日经225",v:c4Nk,c:"#c3d69b",w:1.6}];
 S.forEach(e=>path(a.plot,e.v.map((d,i)=>[c4X[i],d]),d=>a.x(d[0]),d=>a.y(d[1]),e.c,e.w,{dash:e.dash}));
 const cols=[129,201,273,345,417],rows=[1572,1586,1599.5];
 legend(S.map((e,i)=>({x1:cols[i%5],x2:cols[i%5]+19,tx:cols[i%5]+22,y:rows[Math.floor(i/5)],s:e.s,c:e.c,w:e.w,dash:e.dash})),0,6.7,"#595959",1.1);
 txt(307,1196,"2012年5月至今各宽基指数PE图",11.5,"#7f7f7f",{anchor:"middle",weight:700});
}

// ----- chart 5
{
 svg.append("rect").attr("x",42).attr("y",1626).attr("width",531).attr("height",352).attr("fill","url(#dk)");
 const a=axisSet({l:62,r:568,xr:[62.2,566],t:1634,b:1902,clipTop:1632,yDomain:[9,114],yTicks:c5Yticks,xDomain:[0,44],xTicks:c5Labels.map((d,i)=>i),xLabels:c5Labels,grid:"#656565",txt:"#c8c8c8",fs:6,pad:8,xPad:5,xfs:6.3,bottomC:"#777"});
 const S=[{s:"全指医药",v:c5Med,c:"#e46c0a"},{s:"全指金融",v:c5Fin,c:"#ffff00"},{s:"全指消费",v:c5Cons,c:"#93cddd"},{s:"中证环保",v:c5Env,c:"#00b050"},{s:"全指信息",v:c5Info,c:"#558ed5"},{s:"养老产业",v:c5Pens,c:"#d9d9d9"},
  {s:"中证医疗",v:c5Care,c:"#fac090"},{s:"食品饮料",v:c5Food,c:"#e24fd6"},{s:"中证红利",v:c5Div,c:"#ff0000"},{s:"中证军工",v:c5Mil,c:"#b3a2c7"},{s:"中证传媒",v:c5Media,c:"#c00000"}];
 S.forEach(e=>path(a.plot,e.v.map((d,i)=>[c5X[i],d]),d=>a.x(d[0]),d=>d[1]==null?null:a.y(d[1]),e.c,1.8));
 const xs=[155,206,258,310,361,413];
 legend(S.map((e,i)=>({x1:xs[i%6],x2:xs[i%6]+16,tx:xs[i%6]+17,y:i<6?1954:1969,s:e.s,c:e.c,w:1.6})),0,8,"#d0d0d0",1.6);
}
</script></body></html>
